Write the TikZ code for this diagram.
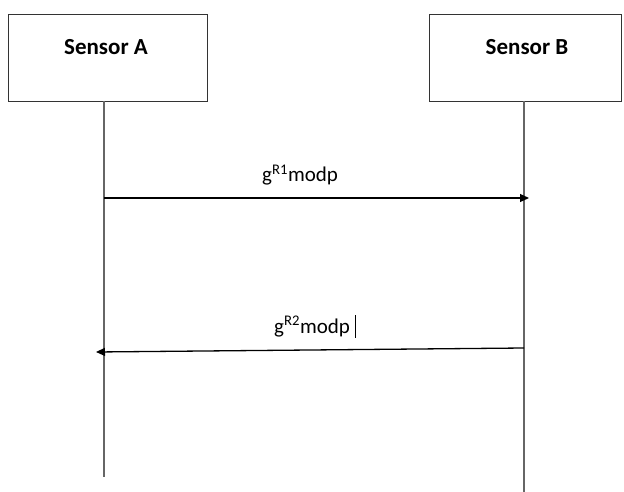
\documentclass[tikz,border=0pt]{standalone}
\usepackage{fontspec}
\setmainfont{Carlito}
\usetikzlibrary{arrows.meta}
\begin{document}
\begin{tikzpicture}[x=1pt,y=-1pt,
  sensorbox/.style={draw=black!80,line width=1.2pt,minimum width=#1,minimum height=87pt,inner sep=0pt,anchor=north west},
  sensorname/.style={font=\fontsize{23}{27}\selectfont\bfseries,inner sep=0pt,anchor=base},
  lifeline/.style={draw=black!60,line width=1.3pt},
  msg/.style={draw=black,line width=1.3pt,-{Triangle[length=9pt,width=8pt]}},
  msglabel/.style={font=\fontsize{21}{24}\selectfont,inner sep=0pt,anchor=base west}]
\useasboundingbox (0,0) rectangle (624,492);
% boxes
\node[sensorbox=199pt] (A) at (8,14) {};
\node[sensorbox=192pt] (B) at (429,14) {};
\node[sensorname] (An) at (106,55) {Sensor A};
\node[sensorname] (Bn) at (527,55) {Sensor B};
% lifelines
\coordinate (Atop) at (104,101);
\coordinate (Abot) at (104,477);
\coordinate (Btop) at (524,101);
\coordinate (Bbot) at (524,492);
\draw[lifeline] (Atop) -- (Abot);
\draw[lifeline] (Btop) -- (Bbot);
% messages
\coordinate (m1s) at (104,198);
\coordinate (m1e) at (529,198);
\coordinate (m2s) at (524,348);
\coordinate (m2e) at (96,352);
\draw[msg] (m1s) -- (m1e);
\draw[msg] (m2s) -- (m2e);
\node[msglabel] (l1) at (262,182) {g\textsuperscript{R1}modp};
\node[msglabel] (l2) at (274,333) {g\textsuperscript{R2}modp};
\coordinate (c1) at (355,315);
\coordinate (c2) at (355,338);
\draw[line width=1pt] (c1) -- (c2);
\end{tikzpicture}
\end{document}
